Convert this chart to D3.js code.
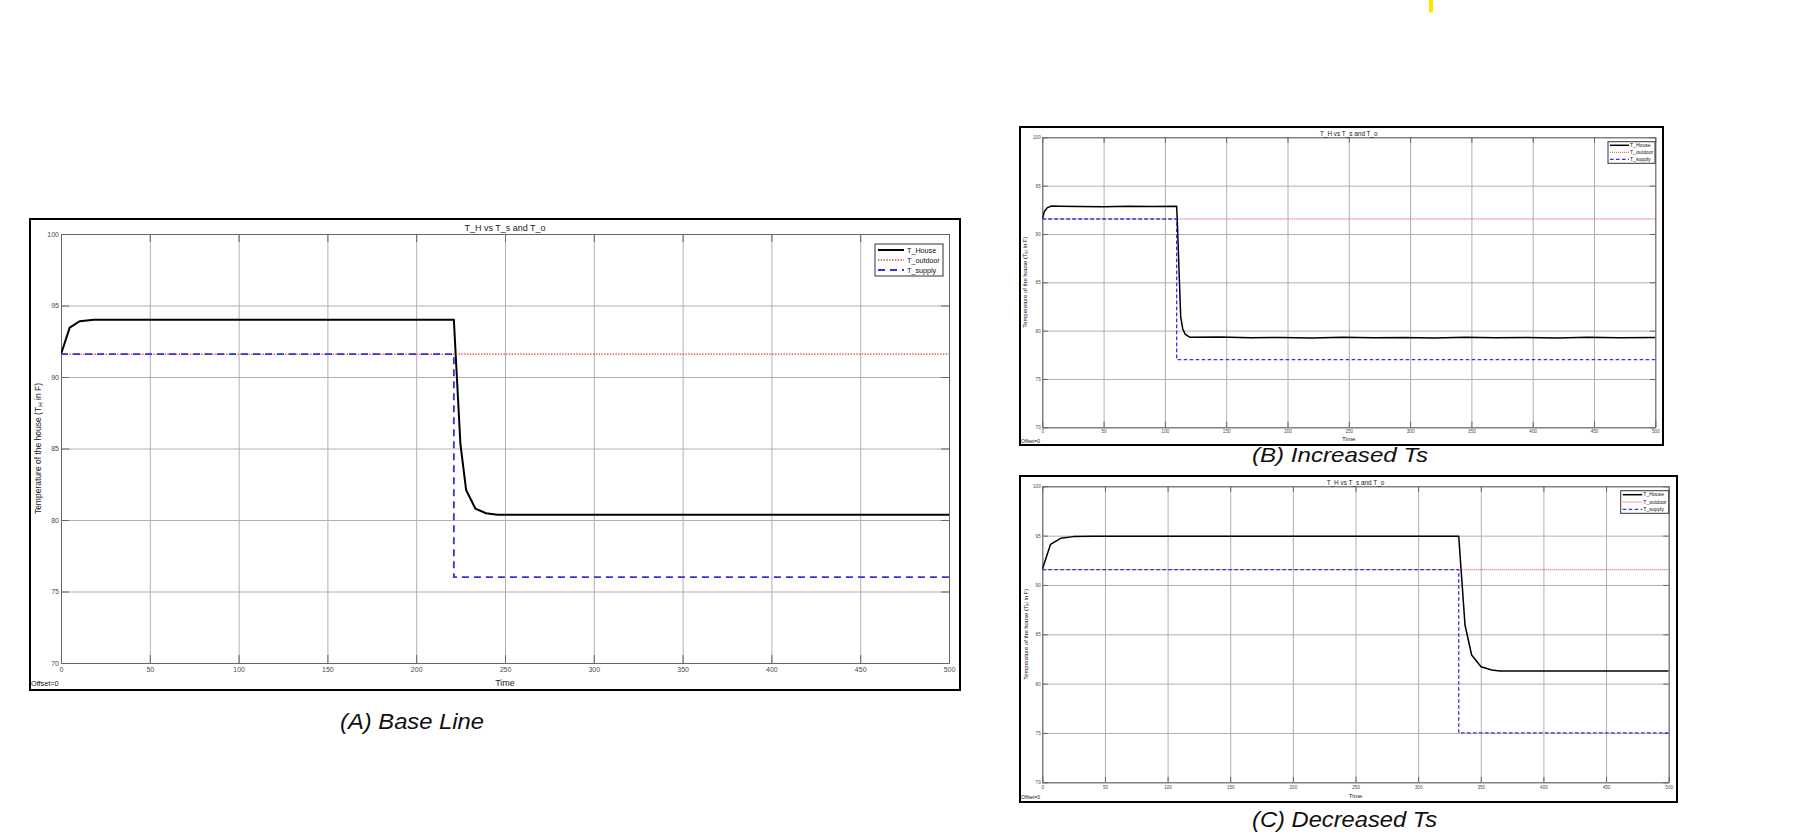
<!DOCTYPE html>
<html><head><meta charset="utf-8">
<script src="https://cdn.jsdelivr.net/npm/d3@7"></script>
<style>
body{margin:0;background:#fff;}
svg{display:block;}
text{font-family:"Liberation Sans",Arial,sans-serif;}
</style>
</head><body>
<svg id="c" width="1794" height="837"></svg>
<script>
// ---------- data ----------
const timeTicks = [0,50,100,150,200,250,300,350,400,450,500];
const tempTicks = [70,75,80,85,90,95,100];
const seriesNames = ["T_House","T_outdoor","T_supply"];
const chartTitle = "T_H vs T_s and T_o";
const captions = ["(A) Base Line","(B) Increased Ts","(C) Decreased Ts"];

// (A) Base line
const aHouseTime = [0, 4.9, 10.5, 18.5, 30, 221.2, 224.9, 228.1, 233.3, 239.3, 245.8, 500];
const aHouseTemp = [91.6, 93.45, 93.9, 94.0, 94.0, 94.0, 85.3, 82.1, 80.8, 80.47, 80.37, 80.37];
const aOutdoorTime = [0, 500];
const aOutdoorTemp = [91.6, 91.6];
const aSupplyTime = [0, 221.2, 221.2, 500];
const aSupplyTemp = [91.6, 91.6, 76.0, 76.0];

// (B) Increased Ts
const bHouseTime = [0, 1.6, 4.1, 7.6, 14.4, 30, 50, 70, 90, 109.6, 110.4, 111.5, 112.9, 114.5, 116.4, 120.5, 145, 170, 195, 220, 245, 270, 295, 320, 345, 370, 395, 420, 445, 470, 500];
const bHouseTemp = [91.55, 92.3, 92.72, 92.89, 92.88, 92.84, 92.82, 92.86, 92.83, 92.87, 90.4, 86.3, 81.4, 80.2, 79.65, 79.31, 79.34, 79.26, 79.3, 79.25, 79.32, 79.26, 79.3, 79.25, 79.31, 79.26, 79.3, 79.25, 79.31, 79.26, 79.28];
const bOutdoorTime = [0, 500];
const bOutdoorTemp = [91.55, 91.55];
const bSupplyTime = [0, 109.6, 109.6, 500];
const bSupplyTemp = [91.55, 91.55, 77.0, 77.0];

// (C) Decreased Ts
const cHouseTime = [0, 6.6, 14.6, 24.7, 40.7, 332.4, 337.4, 342.7, 350.2, 358.7, 365.3, 500];
const cHouseTemp = [91.59, 94.12, 94.73, 94.9, 94.93, 94.93, 85.94, 82.9, 81.72, 81.38, 81.28, 81.28];
const cOutdoorTime = [0, 500];
const cOutdoorTemp = [91.55, 91.55];
const cSupplyTime = [0, 332.4, 332.4, 500];
const cSupplyTemp = [91.55, 91.55, 75.0, 75.0];

const zip = (t, v) => t.map((d, i) => [d, v[i]]);

// ---------- layout ----------
const panels = [
  {
    frame:{x:30,y:219,w:930,h:471}, plot:{x:61,y:234,w:888,h:429},
    house:zip(aHouseTime,aHouseTemp), outdoor:zip(aOutdoorTime,aOutdoorTemp), supply:zip(aSupplyTime,aSupplyTemp),
    tickFont:7, tickLen:8, xPad:4, yPad:2,
    titleFont:9, titleY:230.5,
    labelFont:9, timeY:685.5,
    yLabelFont:8.5, yLabelX:40.5,
    offFont:7.3, offX:31, offY:685.5,
    legend:{x:875,y:244,w:68,h:32, rows:[250,260,270], l0:878, l1:904, tx:907, font:7.2},
    houseW:2, redW:1.3, redDash:"1.4,1.4", blueW:1.8, blueDash:"7,5",
    caption:{x:340, y:729, len:144, font:22}
  },
  {
    frame:{x:1020,y:127,w:643,h:318}, plot:{x:1042.3,y:137.3,w:613,h:290},
    house:zip(bHouseTime,bHouseTemp), outdoor:zip(bOutdoorTime,bOutdoorTemp), supply:zip(bSupplyTime,bSupplyTemp),
    tickFont:4.6, tickLen:5.5, xPad:2.6, yPad:1.6,
    titleFont:6.4, titleY:135.6,
    labelFont:6.2, timeY:440.6,
    yLabelFont:5.9, yLabelX:1027,
    offFont:5, offX:1021, offY:442.5,
    legend:{x:1608,y:141.7,w:47,h:21.6, rows:[145.3,152.3,159.3], l0:1610, l1:1629, tx:1630, font:5.1},
    houseW:1.5, redW:1, redDash:"1,1", blueW:1.3, blueDash:"3.6,2.4",
    caption:{x:1252, y:462.3, len:176, font:21}
  },
  {
    frame:{x:1020,y:476,w:657,h:326}, plot:{x:1042.3,y:486.3,w:626.4,h:296},
    house:zip(cHouseTime,cHouseTemp), outdoor:zip(cOutdoorTime,cOutdoorTemp), supply:zip(cSupplyTime,cSupplyTemp),
    tickFont:4.6, tickLen:5.5, xPad:3.4, yPad:1.6,
    titleFont:6.4, titleY:484.6,
    labelFont:6.2, timeY:797.5,
    yLabelFont:5.9, yLabelX:1027.5,
    offFont:5, offX:1021, offY:799,
    legend:{x:1620.7,y:490.7,w:48,h:22.6, rows:[494.7,502,509.3], l0:1622.7, l1:1642.3, tx:1643.3, font:5.1},
    houseW:1.5, redW:1, redDash:"1,1", blueW:1.3, blueDash:"3.6,2.4",
    caption:{x:1252, y:826.5, len:185, font:22}
  }
];

const RED = "#d8403c", BLUE = "#3434dc", GRID = "#b0b0b0", AXIS = "#666", TICKTXT = "#4a4a4a";

const svg = d3.select("#c");
svg.append("rect").attr("width",1794).attr("height",837).attr("fill","#fff");

// small yellow mark at top
svg.append("rect").attr("x",1429).attr("y",0).attr("width",4).attr("height",12.5).attr("fill","#ffe100");

panels.forEach((p, pi) => {
  const x = d3.scaleLinear().domain([0,500]).range([p.plot.x, p.plot.x + p.plot.w]);
  const y = d3.scaleLinear().domain([70,100]).range([p.plot.y + p.plot.h, p.plot.y]);
  const g = svg.append("g");

  // outer frame
  g.append("rect").attr("x",p.frame.x).attr("y",p.frame.y).attr("width",p.frame.w).attr("height",p.frame.h)
    .attr("fill","#fff").attr("stroke","#000").attr("stroke-width",2);

  // grid
  const gx = g.append("g").attr("transform",`translate(0,${p.plot.y + p.plot.h})`)
    .call(d3.axisBottom(x).tickValues(timeTicks).tickSize(-p.plot.h).tickFormat(""));
  const gy = g.append("g").attr("transform",`translate(${p.plot.x},0)`)
    .call(d3.axisLeft(y).tickValues(tempTicks).tickSize(-p.plot.w).tickFormat(""));
  [gx,gy].forEach(a => { a.select(".domain").remove(); a.selectAll("line").attr("stroke",GRID).attr("stroke-width",1); });

  // axes (inward ticks on all four sides)
  const styleAxis = a => {
    a.select(".domain").attr("stroke",AXIS).attr("stroke-width",1);
    a.selectAll(".tick line").attr("stroke",AXIS).attr("stroke-width",1);
    a.selectAll("text").attr("fill",TICKTXT).style("font-size",p.tickFont+"px").style("font-family","'Liberation Sans',Arial,sans-serif");
  };
  styleAxis(g.append("g").attr("transform",`translate(0,${p.plot.y + p.plot.h})`)
    .call(d3.axisBottom(x).tickValues(timeTicks).tickSizeInner(-p.tickLen).tickSizeOuter(0).tickPadding(p.xPad).tickFormat(d3.format("d"))));
  styleAxis(g.append("g").attr("transform",`translate(0,${p.plot.y})`)
    .call(d3.axisTop(x).tickValues(timeTicks).tickSizeInner(-p.tickLen).tickSizeOuter(0).tickFormat("")));
  styleAxis(g.append("g").attr("transform",`translate(${p.plot.x},0)`)
    .call(d3.axisLeft(y).tickValues(tempTicks).tickSizeInner(-p.tickLen).tickSizeOuter(0).tickPadding(p.yPad).tickFormat(d3.format("d"))));
  styleAxis(g.append("g").attr("transform",`translate(${p.plot.x + p.plot.w},0)`)
    .call(d3.axisRight(y).tickValues(tempTicks).tickSizeInner(-p.tickLen).tickSizeOuter(0).tickFormat("")));

  // data lines
  const clipId = "clip" + pi;
  svg.append("clipPath").attr("id",clipId).append("rect")
    .attr("x",p.plot.x).attr("y",p.plot.y - 2).attr("width",p.plot.w).attr("height",p.plot.h + 4);
  const line = d3.line().x(d => x(d[0])).y(d => y(d[1]));
  const lg = g.append("g").attr("clip-path",`url(#${clipId})`);
  lg.append("path").datum(p.house).attr("d",line).attr("fill","none").attr("stroke","#000")
    .attr("stroke-width",p.houseW).attr("stroke-linejoin","round");
  lg.append("path").datum(p.outdoor).attr("d",line).attr("fill","none").attr("stroke",RED)
    .attr("stroke-width",p.redW).attr("stroke-dasharray",p.redDash);
  lg.append("path").datum(p.supply).attr("d",line).attr("fill","none").attr("stroke",BLUE)
    .attr("stroke-width",p.blueW).attr("stroke-dasharray",p.blueDash);

  // title
  g.append("text").attr("x",p.plot.x + p.plot.w/2).attr("y",p.titleY).attr("text-anchor","middle")
    .style("font-size",p.titleFont+"px").attr("fill","#222").text(chartTitle);
  // x label
  g.append("text").attr("x",p.plot.x + p.plot.w/2).attr("y",p.timeY).attr("text-anchor","middle")
    .style("font-size",p.labelFont+"px").attr("fill","#222").text("Time");
  // y label with subscript
  const yl = g.append("text").attr("transform",`translate(${p.yLabelX},${p.plot.y + p.plot.h/2}) rotate(-90)`)
    .attr("text-anchor","middle").style("font-size",p.yLabelFont+"px").attr("fill","#222");
  yl.append("tspan").text("Temperature of the house (T");
  yl.append("tspan").attr("baseline-shift","-30%").style("font-size",(p.yLabelFont*0.75)+"px").text("H");
  yl.append("tspan").text(" in F)");
  // offset
  g.append("text").attr("x",p.offX).attr("y",p.offY).style("font-size",p.offFont+"px").attr("fill","#111").text("Offset=0");

  // legend
  const L = p.legend;
  g.append("rect").attr("x",L.x).attr("y",L.y).attr("width",L.w).attr("height",L.h)
    .attr("fill","#fff").attr("stroke","#333").attr("stroke-width",1);
  const styles = [
    {c:"#000", w:p.houseW, d:null},
    {c:RED, w:p.redW, d:p.redDash},
    {c:BLUE, w:p.blueW, d:p.blueDash}
  ];
  seriesNames.forEach((n, i) => {
    const ln = g.append("line").attr("x1",L.l0).attr("x2",L.l1).attr("y1",L.rows[i]).attr("y2",L.rows[i])
      .attr("stroke",styles[i].c).attr("stroke-width",styles[i].w);
    if (styles[i].d) ln.attr("stroke-dasharray",styles[i].d);
    g.append("text").attr("x",L.tx).attr("y",L.rows[i]).attr("dy","0.35em")
      .style("font-size",L.font+"px").attr("fill","#111").text(n);
  });
});

// captions (drawn last)
panels.forEach((p, pi) => {
  const c = p.caption;
  svg.append("text").attr("x",c.x).attr("y",c.y)
    .style("font-family","'Liberation Sans',Arial,sans-serif").style("font-style","italic")
    .style("font-size",c.font+"px").attr("fill","#111")
    .attr("textLength",c.len).attr("lengthAdjust","spacingAndGlyphs")
    .text(captions[pi]);
});
</script>
</body></html>
